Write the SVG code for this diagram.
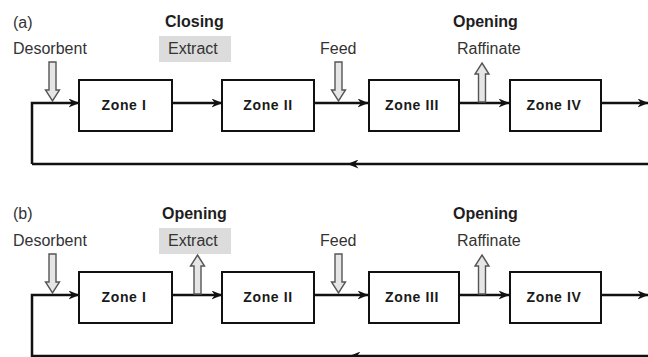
<svg xmlns="http://www.w3.org/2000/svg" width="648" height="357" viewBox="0 0 648 357">
  <style>
    .zone { fill: #ffffff; stroke: #111111; stroke-width: 2; }
    .zlabel { font-family: "Liberation Sans", Arial, sans-serif; font-size: 14px; font-weight: bold; fill: #1a1a1a; text-anchor: middle; letter-spacing: 0.6px; }
    .lbl { font-family: "Liberation Sans", Arial, sans-serif; font-size: 16px; fill: #333333; }
    .head { font-family: "Liberation Sans", Arial, sans-serif; font-size: 16px; font-weight: bold; fill: #1e1e1e; }
    .flow { fill: none; stroke: #111111; stroke-width: 2.5; }
    .port { fill: #e6e6e6; stroke: #555555; stroke-width: 1.4; }
    .shade { fill: #dcdcdc; }
  </style>
  <defs>
    <marker id="ah" viewBox="0 0 11 9" refX="10.5" refY="4.5" markerWidth="11" markerHeight="9" markerUnits="userSpaceOnUse" orient="auto">
      <path d="M0,0 L11,4.5 L0,9 L3.5,4.5 Z" fill="#111111"/>
    </marker>
    <!-- hollow inlet (down) and outlet (up) arrows, tip at origin offsets below -->
    <path id="inlet" d="M-3.5,0 H3.5 V28 H7 L0,39 L-7,28 H-3.5 Z"/>
    <path id="outlet" d="M0,0 L7,11 H3.5 V39 H-3.5 V11 H-7 Z"/>
  </defs>

  <!-- ===== panel (a) ===== -->
  <g id="panel-a">
    <g id="a-connectors">
      <path class="flow" d="M32,164 V103 H79" marker-end="url(#ah)"/>
      <path class="flow" d="M172,103 H222" marker-end="url(#ah)"/>
      <path class="flow" d="M314,103 H368" marker-end="url(#ah)"/>
      <path class="flow" d="M459,103 H509" marker-end="url(#ah)"/>
      <path class="flow" d="M601,103 H648" marker-end="url(#ah)"/>
      <path class="flow" d="M648,164 H348" marker-end="url(#ah)"/>
      <path class="flow" d="M348,164 H32"/>
    </g>
    <g id="a-zone1"><rect class="zone" x="79" y="80" width="93" height="51"/><text class="zlabel" x="124" y="110">Zone I</text></g>
    <g id="a-zone2"><rect class="zone" x="222" y="80" width="92" height="51"/><text class="zlabel" x="268" y="110">Zone II</text></g>
    <g id="a-zone3"><rect class="zone" x="369" y="80" width="90" height="51"/><text class="zlabel" x="412" y="110">Zone III</text></g>
    <g id="a-zone4"><rect class="zone" x="510" y="80" width="91" height="51"/><text class="zlabel" x="554" y="110" letter-spacing="0.2">Zone IV</text></g>

    <g id="a-desorbent"><text class="lbl" x="13" y="54">Desorbent</text><use href="#inlet" class="port" x="52.5" y="62"/></g>
    <g id="a-extract"><rect class="shade" x="159" y="36" width="72" height="26"/><text class="lbl" x="168" y="54">Extract</text><text class="head" x="165" y="27">Closing</text></g>
    <g id="a-feed"><text class="lbl" x="320" y="54">Feed</text><use href="#inlet" class="port" x="338.5" y="62"/></g>
    <g id="a-raffinate"><text class="lbl" x="457" y="54">Raffinate</text><text class="head" x="453" y="27">Opening</text><use href="#outlet" class="port" x="482" y="63"/></g>
    <text class="lbl" x="13" y="28">(a)</text>
  </g>

  <!-- ===== panel (b) ===== -->
  <g id="panel-b">
    <g id="b-connectors">
      <path class="flow" d="M32,357 V295 H79" marker-end="url(#ah)"/>
      <path class="flow" d="M172,295 H222" marker-end="url(#ah)"/>
      <path class="flow" d="M314,295 H368" marker-end="url(#ah)"/>
      <path class="flow" d="M459,295 H509" marker-end="url(#ah)"/>
      <path class="flow" d="M601,295 H648" marker-end="url(#ah)"/>
      <path class="flow" d="M648,356 H350" marker-end="url(#ah)"/>
      <path class="flow" d="M350,356 H32"/>
    </g>
    <g id="b-zone1"><rect class="zone" x="79" y="272" width="93" height="51"/><text class="zlabel" x="124" y="302">Zone I</text></g>
    <g id="b-zone2"><rect class="zone" x="222" y="272" width="92" height="51"/><text class="zlabel" x="268" y="302">Zone II</text></g>
    <g id="b-zone3"><rect class="zone" x="369" y="272" width="90" height="51"/><text class="zlabel" x="412" y="302">Zone III</text></g>
    <g id="b-zone4"><rect class="zone" x="510" y="272" width="91" height="51"/><text class="zlabel" x="554" y="302" letter-spacing="0.2">Zone IV</text></g>

    <g id="b-desorbent"><text class="lbl" x="13" y="246">Desorbent</text><use href="#inlet" class="port" x="52.5" y="254"/></g>
    <g id="b-extract"><rect class="shade" x="159" y="228" width="72" height="26"/><text class="lbl" x="168" y="246">Extract</text><text class="head" x="162" y="219">Opening</text><use href="#outlet" class="port" x="197.5" y="255"/></g>
    <g id="b-feed"><text class="lbl" x="320" y="246">Feed</text><use href="#inlet" class="port" x="338.5" y="254"/></g>
    <g id="b-raffinate"><text class="lbl" x="457" y="246">Raffinate</text><text class="head" x="453" y="219">Opening</text><use href="#outlet" class="port" x="482" y="255"/></g>
    <text class="lbl" x="13" y="219">(b)</text>
  </g>
</svg>
